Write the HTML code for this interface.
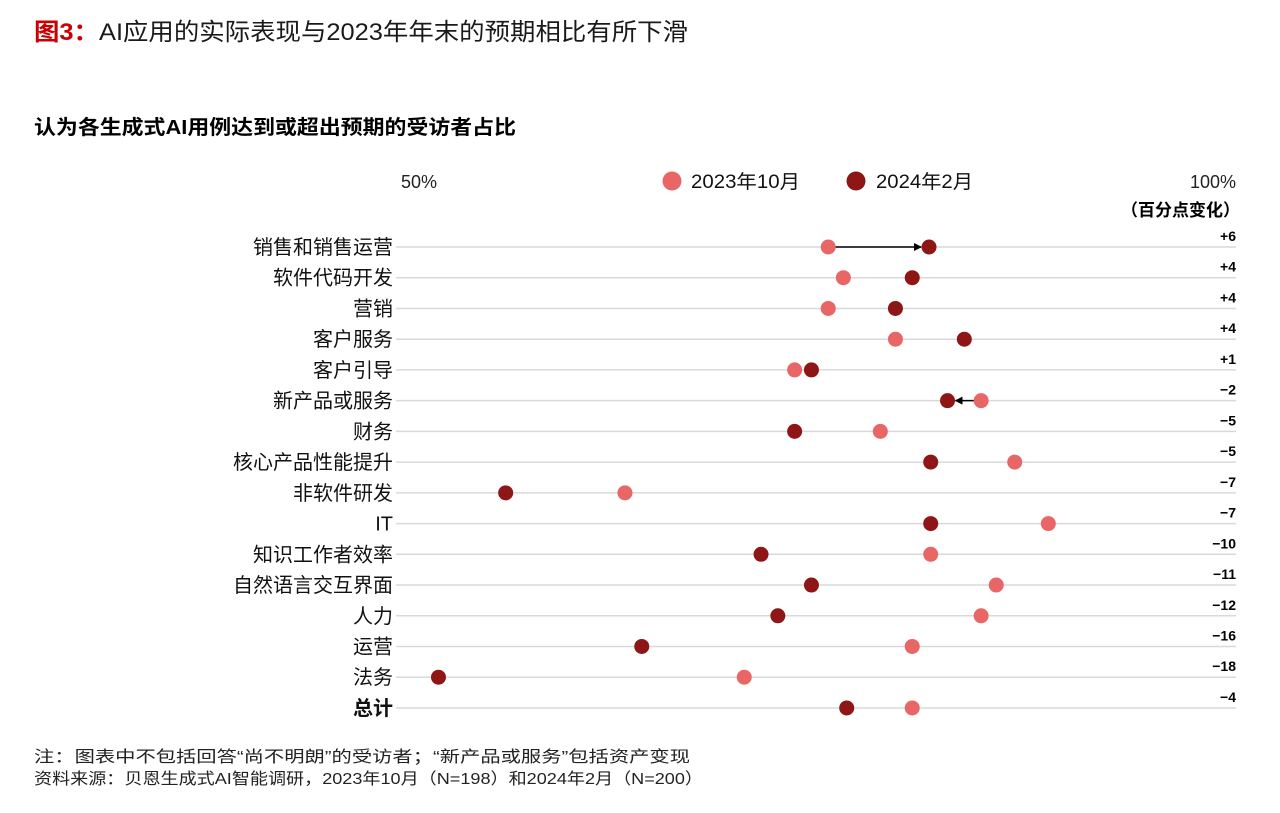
<!DOCTYPE html>
<html><head><meta charset="utf-8"><style>
body{margin:0;background:#fff;width:1280px;height:808px;overflow:hidden;font-family:"Liberation Sans","Noto Sans CJK SC",sans-serif;}
svg text{font-family:"Liberation Sans","Noto Sans CJK SC",sans-serif;}
</style></head><body>
<svg width="1280" height="808">
<text x="34" y="40" font-size="24" fill="#1a1a1a" textLength="654" lengthAdjust="spacingAndGlyphs"><tspan fill="#cc0000" font-weight="bold">图3：</tspan>AI应用的实际表现与2023年年末的预期相比有所下滑</text>
<text x="34" y="134" font-size="20" font-weight="bold" fill="#000" textLength="482" lengthAdjust="spacingAndGlyphs">认为各生成式AI用例达到或超出预期的受访者占比</text>
<text x="401" y="188" font-size="18" fill="#222">50%</text>
<text x="1236" y="188" font-size="18" fill="#222" text-anchor="end">100%</text>
<text x="1240" y="216" font-size="17" font-weight="bold" fill="#000" text-anchor="end">（百分点变化）</text>
<circle cx="672" cy="181" r="9.5" fill="#e86666"/>
<text x="691" y="188" font-size="19" fill="#111" textLength="109" lengthAdjust="spacingAndGlyphs">2023年10月</text>
<circle cx="856" cy="181" r="9.5" fill="#8e1616"/>
<text x="876" y="188" font-size="19" fill="#111" textLength="97" lengthAdjust="spacingAndGlyphs">2024年2月</text>
<g id="plot"></g>
<text x="34" y="762" font-size="16" fill="#222" textLength="656" lengthAdjust="spacingAndGlyphs">注：图表中不包括回答“尚不明朗”的受访者；“新产品或服务”包括资产变现</text>
<text x="34" y="784" font-size="16" fill="#222" textLength="669" lengthAdjust="spacingAndGlyphs">资料来源：贝恩生成式AI智能调研，2023年10月（N=198）和2024年2月（N=200）</text>
</svg>
<script>
const categories=["销售和销售运营","软件代码开发","营销","客户服务","客户引导","新产品或服务","财务","核心产品性能提升","非软件研发","IT","知识工作者效率","自然语言交互界面","人力","运营","法务","总计"];
const values2023=[74.3,75.2,74.3,78.3,72.3,83.4,77.4,85.4,62.2,87.4,80.4,84.3,83.4,79.3,69.3,79.3];
const values2024=[80.3,79.3,78.3,82.4,73.3,81.4,72.3,80.4,55.1,80.4,70.3,73.3,71.3,63.2,51.1,75.4];
const changeLabels=["+6","+4","+4","+4","+1","−2","−5","−5","−7","−7","−10","−11","−12","−16","−18","−4"];
const arrowRows=[0,5];
const NS="http://www.w3.org/2000/svg";
const g=document.getElementById('plot');
const x=v=>420+(v-50)*16.8;
const y=i=>247+i*30.73;
function mk(t,a){const e=document.createElementNS(NS,t);for(const k in a)e.setAttribute(k,a[k]);g.appendChild(e);return e;}
const defs=mk('defs',{});
defs.innerHTML='<marker id="ah" markerWidth="8" markerHeight="8" refX="7" refY="4" orient="auto" markerUnits="userSpaceOnUse"><path d="M0,0 L8,4 L0,8 z" fill="#000"/></marker>';
categories.forEach((c,i)=>{
 const yy=y(i);
 const ln=mk('line',{x1:396,x2:1236,y1:yy,y2:yy,stroke:'#d9d9d9','stroke-width':1.5});
 
 
 const lb=mk('text',{x:393,y:yy+7,'font-size':20,'text-anchor':'end',fill:'#111','font-weight':i===15?'bold':'normal'});
 lb.textContent=c;
 
 
 const ch=mk('text',{x:1236,y:yy-6,'font-size':14,'font-weight':'bold','text-anchor':'end',fill:'#000'});
 ch.textContent=changeLabels[i];
 
 
 if(arrowRows.includes(i)){
  const a=values2023[i],b=values2024[i],d=b>a?1:-1;
  const ar=mk('line',{x1:x(a)+d*7,x2:x(b)-d*8,y1:yy,y2:yy,stroke:'#000','stroke-width':1.5,'marker-end':'url(#ah)'});
  
  
 }
 const p1=mk('circle',{cx:x(values2023[i]),cy:yy,r:7.5,fill:'#e86666'});
 
 
 const p2=mk('circle',{cx:x(values2024[i]),cy:yy,r:7.5,fill:'#8e1616'});
 
 
});
</script>
</body></html>
